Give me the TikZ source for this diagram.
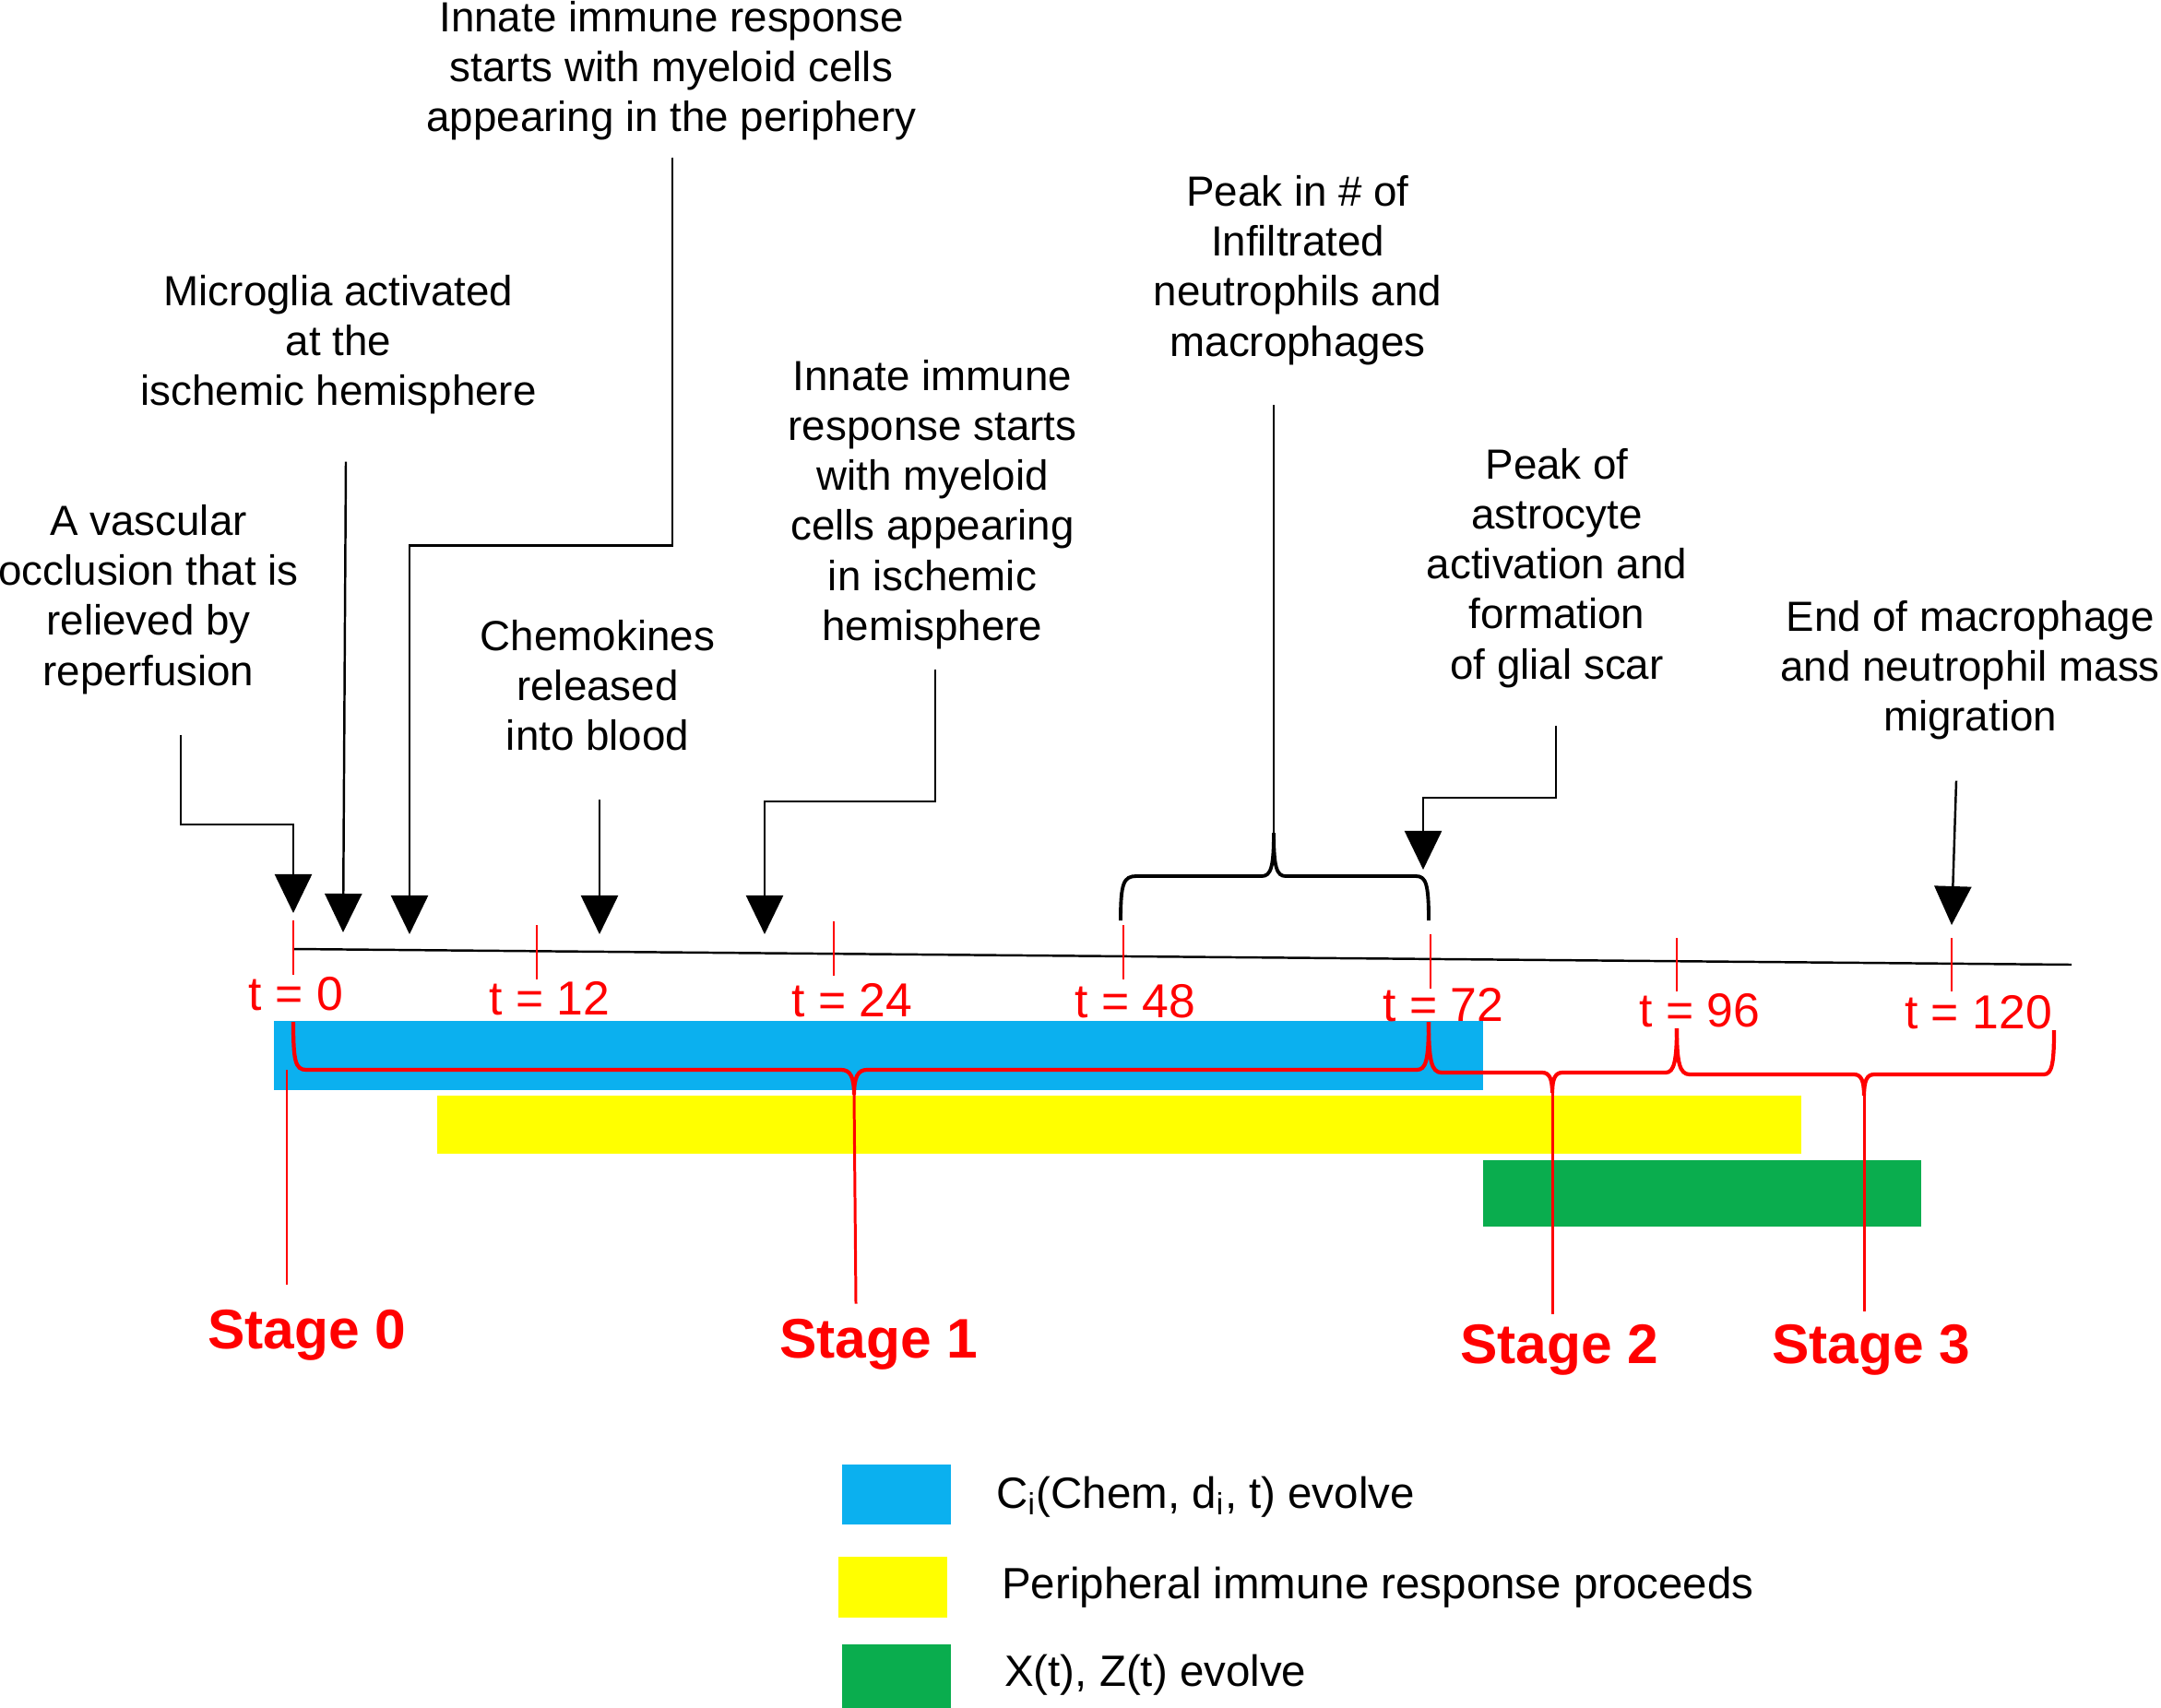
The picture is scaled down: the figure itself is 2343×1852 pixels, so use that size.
\documentclass[tikz,border=0pt]{standalone}
\usepackage{fontspec}
\setmainfont{Liberation Sans}
\usepackage{tikz}
\usetikzlibrary{arrows.meta,calc}

\definecolor{chemblue}{HTML}{0BB0EF}
\definecolor{immyellow}{HTML}{FFFF00}
\definecolor{xzgreen}{HTML}{0AAD4E}

\begin{document}
\begin{tikzpicture}[->,>={Triangle[width=4mm,length=4.2mm]},x=0.01cm,y=-0.01cm,
                    line width=0.7pt,inner sep=0pt]
  \tikzstyle{note}=[align=center,font=\fontsize{13}{15.4}\selectfont]
  \tikzstyle{tlab}=[text=red,anchor=base,font=\fontsize{14.7}{17}\selectfont]
  \tikzstyle{stage}=[text=red,anchor=base,font=\bfseries\fontsize{17.2}{20}\selectfont]
  \tikzstyle{legendtext}=[anchor=base west,font=\fontsize{13.5}{16}\selectfont]
  \tikzstyle{stagebrace}=[-,red,line width=1.2pt]
  \tikzstyle{stageline}=[-,red,line width=0.85pt]
  \tikzstyle{tmark}=[-,red,line width=0.4pt]

  \useasboundingbox (0,0) rectangle (2343,1852);

  % bars
  \fill[chemblue] (297,1107) rectangle (1608,1182);
  \fill[immyellow] (474,1188) rectangle (1953,1251);
  \fill[xzgreen] (1608,1258) rectangle (2083,1330);

  % time axis
  \draw[-] (318,1029) -- (2246,1046);
  \draw[tmark] (318,998) -- (318,1057);
  \draw[tmark] (582,1003) -- (582,1062);
  \draw[tmark] (904,999) -- (904,1058);
  \draw[tmark] (1218,1003) -- (1218,1062);
  \draw[tmark] (1551,1013) -- (1551,1072);
  \draw[tmark] (1818,1017) -- (1818,1075);
  \draw[tmark] (2116,1017) -- (2116,1075);

  \node[tlab] (l0)   at (321,1095)  {t = 0};
  \node[tlab] (l12)  at (596,1100)  {t = 12};
  \node[tlab] (l24)  at (924,1102)  {t = 24};
  \node[tlab] (l48)  at (1231,1103) {t = 48};
  \node[tlab] (l72)  at (1565,1107) {t = 72};
  \node[tlab] (l96)  at (1843,1113) {t = 96};
  \node[tlab] (l120) at (2145,1115) {t = 120};

  % events
  \node[note] (vasc)   at (161,650)  {A vascular\\occlusion that is\\relieved by\\reperfusion};
  \node[note] (micro)  at (367,374)  {Microglia activated\\at the\\ischemic hemisphere};
  \node[note] (periph) at (728,77)   {Innate immune response\\starts with myeloid cells\\appearing in the periphery};
  \node[note] (chemo)  at (648,743)  {Chemokines\\released\\into blood};
  \node[note] (isch)   at (1011,547) {Innate immune\\response starts\\with myeloid\\cells appearing\\in ischemic\\hemisphere};
  \node[note] (peak)   at (1407,293) {Peak in \# of\\Infiltrated\\neutrophils and\\macrophages};
  \node[note] (astro)  at (1688,616) {Peak of\\astrocyte\\activation and\\formation\\of glial scar};
  \node[note] (endmig) at (2136,727) {End of macrophage\\and neutrophil mass\\migration};

  \coordinate (tip0) at (318,990);
  \coordinate (tip1) at (372,1011);
  \coordinate (tip2) at (444,1013);
  \coordinate (tip3) at (650,1013);
  \coordinate (tip4) at (829,1013);
  \coordinate (tip5) at (1543,943);
  \coordinate (tip6) at (2116,1003);
  \coordinate (btip) at (1381,903);

  \draw ($(vasc.south)+(35,43)$) -- ++(0,97) -| (tip0);
  \draw ($(micro.south)+(8,50)$) -- (tip1);
  \draw ($(periph.south)+(1,17)$) -- ++(0,421) -| (tip2);
  \draw ($(chemo.south)+(2,52)$) -- (tip3);
  \draw ($(isch.south)+(3,21)$) -- ++(0,143) -| (tip4);
  \draw ($(astro.south)+(-1,40)$) -- ++(0,78) -| (tip5);
  \draw ($(endmig.south)+(-15,43)$) -- (tip6);

  % peak window, t = 48 to t = 72
  \draw[-] ($(peak.south)+(-26,42)$) -- (btip);
  \draw[-,line width=1.1pt] (1215,998) .. controls (1215,958) and (1218,950) .. (1232,950)
    -- (1368,950) .. controls (1378,950) and (1381,940) .. (btip)
    .. controls (1381,940) and (1384,950) .. (1394,950)
    -- (1535,950) .. controls (1546,950) and (1549,958) .. (1549,998);

  % stages
  \node[stage] (st0) at (333,1462)  {Stage 0};
  \node[stage] (st1) at (953,1472)  {Stage 1};
  \node[stage] (st2) at (1691,1478) {Stage 2};
  \node[stage] (st3) at (2029,1478) {Stage 3};

  \coordinate (c0) at (311,1160);
  \coordinate (c1) at (926,1187);
  \coordinate (c2) at (1683,1185);
  \coordinate (c3) at (2021,1188);

  \draw[stagebrace] (318,1108) .. controls (318,1150) and (320,1160) .. (332,1160)
    -- (912,1160) .. controls (922,1160) and (926,1168) .. (c1)
    .. controls (926,1168) and (930,1160) .. (940,1160)
    -- (1536,1160) .. controls (1546,1160) and (1549,1150) .. (1549,1108);
  \draw[stagebrace] (1549,1108) .. controls (1549,1150) and (1552,1163) .. (1563,1163)
    -- (1672,1163) .. controls (1680,1163) and (1683,1170) .. (c2)
    .. controls (1683,1170) and (1686,1163) .. (1694,1163)
    -- (1806,1163) .. controls (1815,1163) and (1818,1150) .. (1818,1115);
  \draw[stagebrace] (1818,1115) .. controls (1818,1152) and (1821,1165) .. (1832,1165)
    -- (2010,1165) .. controls (2018,1165) and (2021,1172) .. (c3)
    .. controls (2021,1172) and (2024,1165) .. (2032,1165)
    -- (2216,1165) .. controls (2225,1165) and (2227,1152) .. (2227,1117);

  \draw[stageline] (c0) -- ($(st0.north)+(-22,-26)$);
  \draw[stageline] (c1) -- ($(st1.north)+(-25,-15)$);
  \draw[stageline] (c2) -- ($(st2.north)+(-8,-10)$);
  \draw[stageline] (c3) -- ($(st3.north)+(-8,-13)$);

  % legend
  \fill[chemblue] (913,1588) rectangle (1031,1653);
  \fill[immyellow] (909,1688) rectangle (1027,1754);
  \fill[xzgreen] (913,1783) rectangle (1031,1852);
  \node[legendtext] (kblue)   at (1079,1635) {C\textsubscript{i}(Chem, d\textsubscript{i}, t) evolve};
  \node[legendtext] (kyellow) at (1085,1733) {Peripheral immune response proceeds};
  \node[legendtext] (kgreen)  at (1088,1828) {X(t), Z(t) evolve};
\end{tikzpicture}
\end{document}
